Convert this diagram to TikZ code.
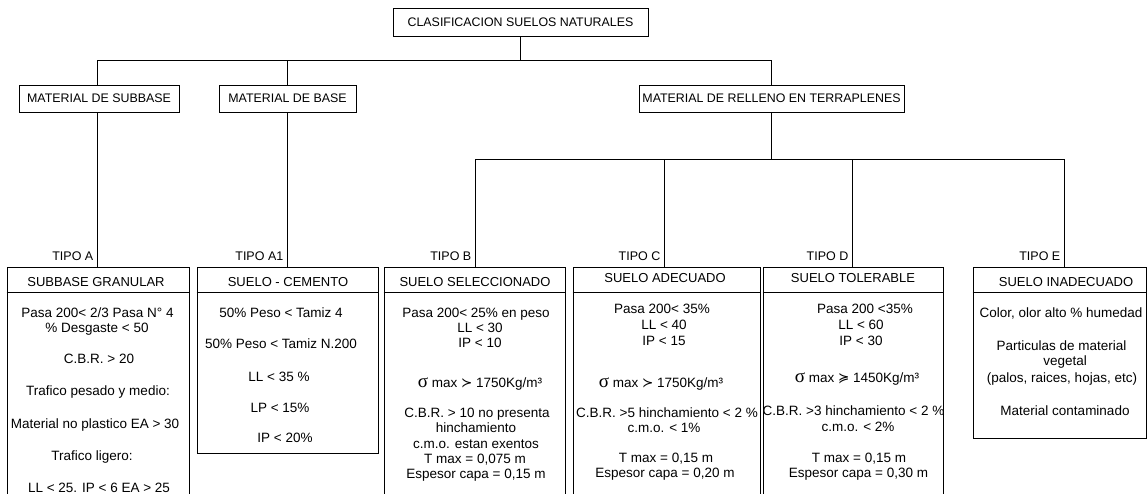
\documentclass[tikz,border=0pt]{standalone}
\usepackage{fontspec}
\setmainfont{Liberation Sans}
\newfontfamily\symfont{DejaVu Sans}
\newfontfamily\sigfont{Liberation Serif}
\newcommand\sgm{{\sigfont\fontsize{19}{19}\selectfont σ}}
\newcommand\gtrsym{{\symfont\fontsize{13.5}{13.5}\selectfont ≻}}
\newcommand\geqsym{{\symfont\fontsize{13.5}{13.5}\selectfont ≽}}
\newcommand\tl[4]{\node[txt] (#1) at (#2,#3+5) {#4};}
\newcommand\hl[4]{\node[hdr] (#1) at (#2,#3+4.5) {#4};}
\begin{document}
\begin{tikzpicture}[x=1pt,y=-1pt,
  lbl/.style={draw, line width=0.9pt, inner sep=0pt, font=\fontsize{12.4}{14}\selectfont},
  cbox/.style={draw, line width=0.9pt, inner sep=0pt},
  hdr/.style={inner sep=0pt, font=\fontsize{13}{15}\selectfont, anchor=base},
  txt/.style={inner sep=0pt, font=\fontsize{13.5}{15}\selectfont, anchor=base},
  tipo/.style={inner sep=0pt, font=\fontsize{12.5}{14}\selectfont, anchor=base east},
  conn/.style={line width=0.8pt}]
\useasboundingbox (0,0) rectangle (1147,493);
\clip (0,0) rectangle (1147,493);

% level 1 and 2
\node[lbl, minimum width=255pt, minimum height=28pt] (root) at (520.5,22) {CLASIFICACION SUELOS NATURALES};
\node[lbl, minimum width=160pt, minimum height=27pt] (sub) at (99,98.5) {MATERIAL DE SUBBASE};
\node[lbl, minimum width=137pt, minimum height=27pt] (base) at (287.5,98.5) {MATERIAL DE BASE};
\node[lbl, minimum width=265pt, minimum height=27pt] (rel) at (771.5,98.5) {MATERIAL DE RELLENO EN TERRAPLENES};

\draw[conn] (root.south) -- ++(0,24) coordinate (bus1);
\draw[conn] (bus1) -| ([xshift=-2pt]sub.north);
\draw[conn] (bus1) -| (base.north);
\draw[conn] (bus1) -| (rel.north);

% level 3 boxes
\node[cbox, minimum width=182pt, minimum height=233pt] (boxA) at (98,383.5) {};
\node[cbox, minimum width=181pt, minimum height=186pt] (boxA1) at (287.5,360) {};
\node[cbox, minimum width=181pt, minimum height=233pt] (boxB) at (474.5,383.5) {};
\node[cbox, minimum width=187pt, minimum height=233pt] (boxC) at (666.5,383.5) {};
\node[cbox, minimum width=180pt, minimum height=233pt] (boxD) at (853,383.5) {};
\node[cbox, minimum width=173pt, minimum height=171pt] (boxE) at (1059.5,352.5) {};

\foreach \b in {boxA,boxA1,boxB,boxC,boxD,boxE}
  \draw[conn] ([yshift=-26pt]\b.north west) -- ([yshift=-26pt]\b.north east);

\draw[conn] ([xshift=-2pt]sub.south) -- ([xshift=-1pt]boxA.north);
\draw[conn] (base.south) -- (boxA1.north);
\draw[conn] (rel.south) -- ++(0,47) coordinate (bus2);
\draw[conn] (bus2) -| ([xshift=0.5pt]boxB.north);
\draw[conn] (bus2) -| ([xshift=-2.5pt]boxC.north);
\draw[conn] (bus2) -| ([xshift=-1pt]boxD.north);
\draw[conn] (bus2) -| ([xshift=4.5pt]boxE.north);

% tipo labels
\node[tipo] (tA) at (93.5,260) {TIPO A};
\node[tipo] (tA1) at (283.5,260) {TIPO A1};
\node[tipo] (tB) at (471.5,260) {TIPO B};
\node[tipo] (tC) at (660.5,260) {TIPO C};
\node[tipo] (tD) at (848.5,260) {TIPO D};
\node[tipo] (tE) at (1060.5,260) {TIPO E};

% box A
\hl{hA}{96}{282}{SUBBASE GRANULAR}
\tl{a1}{97.5}{312}{Pasa 200< 2/3 Pasa N° 4}
\tl{a2}{97}{327}{\% Desgaste < 50}
\tl{a3}{99}{358}{C.B.R. > 20}
\tl{a4}{98}{390}{Trafico pesado y medio:}
\tl{a5}{95}{423}{Material no plastico EA > 30}
\tl{a6}{92}{455}{Trafico ligero:}
\tl{a7}{99}{487}{LL < 25. IP < 6 EA > 25}

% box A1
\hl{hA1}{288}{282}{SUELO - CEMENTO}
\tl{b1}{281}{312}{50\% Peso < Tamiz 4}
\tl{b2}{281}{343}{50\% Peso < Tamiz N.200}
\tl{b3}{279}{376}{LL < 35 \%}
\tl{b4}{280}{407}{LP < 15\%}
\tl{b5}{285}{437}{IP < 20\%}

% box B
\hl{hB}{475}{282}{SUELO SELECCIONADO}
\tl{c1}{476}{312}{Pasa 200< 25\% en peso}
\tl{c2}{480}{327}{LL < 30}
\tl{c3}{480}{342}{IP < 10}
\tl{c4}{480}{382}{\sgm{} max \gtrsym{} 1750Kg/m³}
\tl{c5}{477}{412}{C.B.R. > 10 no presenta}
\tl{c6}{476}{427}{hinchamiento}
\tl{c7}{476}{443}{c.m.o. estan exentos}
\tl{c8}{475}{458}{T max = 0,075 m}
\tl{c9}{476}{473}{Espesor capa = 0,15 m}

% box C
\hl{hC}{665}{278}{SUELO ADECUADO}
\tl{d1}{662}{308}{Pasa 200< 35\%}
\tl{d2}{664}{324}{LL < 40}
\tl{d3}{664}{340}{IP < 15}
\tl{d4}{661}{382}{\sgm{} max \gtrsym{} 1750Kg/m³}
\tl{d5}{667}{412}{C.B.R. >5 hinchamiento < 2 \%}
\tl{d6}{664}{427}{c.m.o. < 1\%}
\tl{d7}{666}{457}{T max = 0,15 m}
\tl{d8}{665}{472}{Espesor capa = 0,20 m}

% box D
\hl{hD}{853}{278}{SUELO TOLERABLE}
\tl{e1}{865}{308}{Pasa 200 <35\%}
\tl{e2}{861}{324}{LL < 60}
\tl{e3}{861}{340}{IP < 30}
\tl{e4}{857}{377}{\sgm{} max \geqsym{} 1450Kg/m³}
\tl{e5}{853.5}{410}{C.B.R. >3 hinchamiento < 2 \%}
\tl{e6}{858}{426}{c.m.o. < 2\%}
\tl{e7}{859}{457}{T max = 0,15 m}
\tl{e8}{858.5}{472}{Espesor capa = 0,30 m}

% box E
\hl{hE}{1066}{282}{SUELO INADECUADO}
\tl{f1}{1061}{312}{Color, olor alto \% humedad}
\tl{f2}{1061.5}{345}{Particulas de material}
\tl{f3}{1065}{360}{vegetal}
\tl{f4}{1062}{377}{(palos, raices, hojas, etc)}
\tl{f5}{1065}{410}{Material contaminado}
\end{tikzpicture}
\end{document}
